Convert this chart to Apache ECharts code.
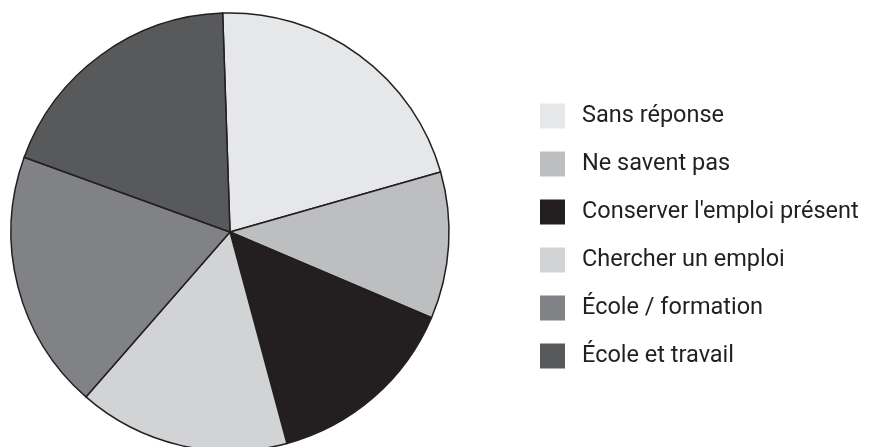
<!DOCTYPE html>
<html><head><meta charset="utf-8">
<script src="https://cdn.jsdelivr.net/npm/echarts@6/dist/echarts.min.js"></script>
<style>html,body{margin:0;padding:0;background:#fff}#c{width:869px;height:447px}</style>
</head><body><div id="c"></div>
<script>
const categories = ["Sans réponse", "Ne savent pas", "Conserver l'emploi présent", "Chercher un emploi", "École / formation", "École et travail"];
const values = [21.1, 10.8, 14.4, 15.6, 19.1, 18.9];
const colors = ["#e6e7e8", "#bcbec0", "#231f20", "#d1d3d4", "#808285", "#58595b"];

const chart = echarts.init(document.getElementById('c'), null, {renderer: 'canvas'});
chart.setOption({
  animation: false,
  color: colors,
  legend: {
    orient: 'vertical',
    left: 540,
    top: 103.5,
    padding: 0,
    itemWidth: 25,
    itemHeight: 25,
    itemGap: 23,
    icon: 'rect',
    itemStyle: {borderWidth: 0},
    textStyle: {fontFamily: 'Roboto', fontSize: 23.5, lineHeight: 25, color: '#231f20', padding: [0, 0, 0, 12]},
    data: categories
  },
  series: [{
    type: 'pie',
    center: [230, 232],
    radius: 219,
    startAngle: 91.92,
    clockwise: true,
    label: {show: false},
    labelLine: {show: false},
    itemStyle: {borderColor: '#231f20', borderWidth: 1.5},
    emphasis: {disabled: true},
    data: categories.map((n, i) => ({name: n, value: values[i]}))
  }]
});
</script></body></html>
